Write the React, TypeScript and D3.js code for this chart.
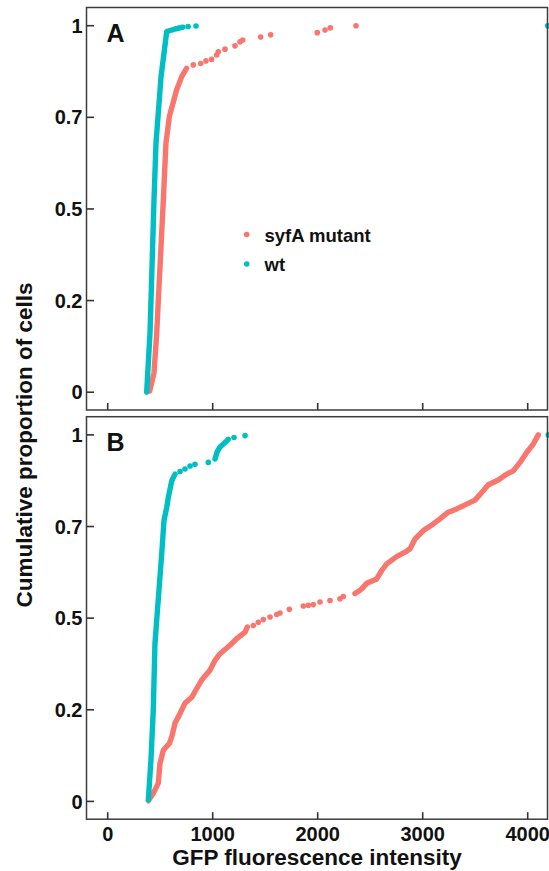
import React from "react";
import * as d3 from "d3";

type Pt = [number, number];

// ---------- data ----------
const seriesNames = ["syfA mutant", "wt"];
const seriesColors = ["#F8766D", "#00BFC4"];
const panelLabels = ["A", "B"];

const xTicks = [0, 1000, 2000, 3000, 4000];
const xTickLabels = ["0", "1000", "2000", "3000", "4000"];
const yTicks = [0, 0.25, 0.5, 0.75, 1];
const yTickLabels = ["0", "0.2", "0.5", "0.7", "1"];

// Panel A – syfA mutant
const mutantA_curve: Pt[] = [
  [400, 0.003], [441, 0.053], [467, 0.162], [498, 0.342], [530, 0.525], [555, 0.68],
  [587, 0.752], [657, 0.825], [705, 0.861], [752, 0.884],
];
const mutantA_dots: Pt[] = [
  [815, 0.893], [886, 0.897], [936, 0.904], [990, 0.908], [1038, 0.92], [1053, 0.929],
  [1117, 0.936], [1212, 0.945], [1260, 0.956], [1286, 0.961], [1457, 0.969], [1552, 0.975],
  [1996, 0.981], [2070, 0.988], [2120, 0.994], [2365, 1.0],
];
// Panel A – wt
const wtA_curve: Pt[] = [
  [371, 0.0], [403, 0.162], [422, 0.342], [441, 0.525], [460, 0.68], [508, 0.861],
  [562, 0.984], [641, 0.991], [717, 0.996],
];
const wtA_dots: Pt[] = [[766, 0.998], [841, 0.999], [4190, 1.0]];

// Panel B – syfA mutant
const mutantB_curve1: Pt[] = [
  [387, 0.002], [434, 0.022], [482, 0.05], [498, 0.104], [530, 0.14], [587, 0.158],
  [610, 0.176], [641, 0.213], [689, 0.24], [736, 0.268], [800, 0.284], [848, 0.308],
  [895, 0.331], [974, 0.358], [1022, 0.385], [1070, 0.403], [1165, 0.426], [1229, 0.444],
  [1308, 0.462], [1330, 0.476],
];
const mutantB_dots: Pt[] = [
  [1387, 0.48], [1434, 0.489], [1482, 0.496], [1546, 0.503], [1610, 0.51], [1641, 0.514],
  [1730, 0.524], [1863, 0.533], [1911, 0.535], [1958, 0.537], [2022, 0.544], [2117, 0.548],
  [2212, 0.553], [2244, 0.559],
];
const mutantB_curve2: Pt[] = [
  [2355, 0.567], [2403, 0.576], [2419, 0.58], [2467, 0.595], [2562, 0.607], [2610, 0.63],
  [2657, 0.648], [2752, 0.668], [2831, 0.68], [2879, 0.689], [2927, 0.716], [3006, 0.739],
  [3101, 0.757], [3165, 0.771], [3244, 0.789], [3324, 0.798], [3419, 0.811], [3498, 0.822],
  [3562, 0.843], [3625, 0.864], [3720, 0.877], [3800, 0.893], [3863, 0.902], [3927, 0.925],
  [3990, 0.952], [4053, 0.975], [4101, 1.0],
];
// Panel B – wt
const wtB_curve1: Pt[] = [
  [387, 0.004], [412, 0.113], [434, 0.249], [450, 0.43], [470, 0.507], [514, 0.674],
  [536, 0.766], [562, 0.802], [577, 0.829], [610, 0.875], [641, 0.893],
];
const wtB_dots: Pt[] = [
  [689, 0.9], [736, 0.907], [784, 0.915], [831, 0.92], [958, 0.925],
  [1203, 0.993], [1308, 0.998], [4196, 1.0],
];
const wtB_curve2: Pt[] = [
  [1022, 0.934], [1044, 0.955], [1070, 0.967], [1117, 0.979], [1149, 0.988],
];

const panels = [
  {
    label: panelLabels[0],
    series: [
      { curves: [mutantA_curve], dots: mutantA_dots },
      { curves: [wtA_curve], dots: wtA_dots },
    ],
  },
  {
    label: panelLabels[1],
    series: [
      { curves: [mutantB_curve1, mutantB_curve2], dots: mutantB_dots },
      { curves: [wtB_curve1, wtB_curve2], dots: wtB_dots },
    ],
  },
];

// ---------- layout ----------
const W = 549;
const H = 871;
const panelLeft = 86.5;
const panelRight = 547.5;
const panelTops = [7.5, 416.7];
const panelH = 402.5;
const yTopPad = 18.2;
const yBotPad = 17.8;
const FONT = "'Liberation Sans', Arial, Helvetica, sans-serif";
const AXIS = "#333";

const x = d3.scaleLinear().domain([0, 4000]).range([107.7, 527.7]);

export default function App() {
  return (
    <svg
      width={W}
      height={H}
      style={{ position: "absolute", left: 0, top: 0, background: "#fff" }}
      fontFamily={FONT}
    >
      <rect x={0} y={0} width={W} height={H} fill="#fff" />
      {panels.map((p, pi) => {
        const top = panelTops[pi];
        const y = d3
          .scaleLinear()
          .domain([0, 1])
          .range([top + panelH - yBotPad, top + yTopPad]);
        const line = d3
          .line<Pt>()
          .x((d) => x(d[0]))
          .y((d) => y(d[1]));
        const bottom = top + panelH;
        return (
          <g key={pi}>
            {p.series.map((s, si) => (
              <g key={si}>
                {s.curves.map((c, ci) => (
                  <path
                    key={ci}
                    d={line(c) || ""}
                    fill="none"
                    stroke={seriesColors[si]}
                    strokeWidth={5.4}
                    strokeLinecap="round"
                    strokeLinejoin="round"
                  />
                ))}
                {s.dots.map((d, di) => (
                  <circle key={di} cx={x(d[0])} cy={y(d[1])} r={2.8} fill={seriesColors[si]} />
                ))}
              </g>
            ))}
            <rect
              x={panelLeft}
              y={top}
              width={panelRight - panelLeft}
              height={panelH}
              fill="none"
              stroke="#3c3c3c"
              strokeWidth={1.5}
            />
            {yTicks.map((t, ti) => (
              <g key={"y" + ti}>
                <line
                  x1={panelLeft + 0.5}
                  x2={panelLeft + 7.5}
                  y1={y(t)}
                  y2={y(t)}
                  stroke={AXIS}
                  strokeWidth={1.6}
                />
                <text
                  x={82.5}
                  y={y(t) + 7.1}
                  textAnchor="end"
                  fontSize={20}
                  fontWeight="bold"
                  fill="#111"
                >
                  {yTickLabels[ti]}
                </text>
              </g>
            ))}
            {xTicks.map((t, ti) => (
              <line
                key={"x" + ti}
                x1={x(t)}
                x2={x(t)}
                y1={bottom - 7}
                y2={bottom}
                stroke={AXIS}
                strokeWidth={1.6}
              />
            ))}
            <text
              x={106.5}
              y={top + 34.5}
              fontSize={25}
              fontWeight="bold"
              fill="#111"
            >
              {p.label}
            </text>
            {pi === panels.length - 1 &&
              xTicks.map((t, ti) => (
                <text
                  key={"xl" + ti}
                  x={x(t)}
                  y={bottom + 21.5}
                  textAnchor="middle"
                  fontSize={20}
                  fontWeight="bold"
                  fill="#111"
                >
                  {xTickLabels[ti]}
                </text>
              ))}
          </g>
        );
      })}
      {/* legend */}
      {seriesNames.map((n, i) => (
        <g key={n}>
          <circle cx={246.7} cy={234.5 + i * 29.5} r={2.8} fill={seriesColors[i]} />
          <text x={264.5} y={241.5 + i * 29.5} fontSize={18.5} fontWeight="bold" fill="#111">
            {n}
          </text>
        </g>
      ))}
      {/* axis titles */}
      <text
        x={(panelLeft + panelRight) / 2}
        y={865}
        textAnchor="middle"
        fontSize={22.5}
        fontWeight="bold"
        fill="#111"
      >
        GFP fluorescence intensity
      </text>
      <text
        transform={`translate(31.5, 445) rotate(-90)`}
        textAnchor="middle"
        fontSize={22.5}
        fontWeight="bold"
        fill="#111"
      >
        Cumulative proportion of cells
      </text>
    </svg>
  );
}
